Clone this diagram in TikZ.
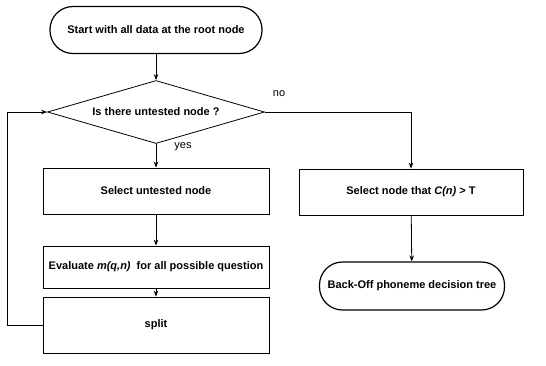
\documentclass[tikz,border=0pt]{standalone}
\usepackage{fontspec}
\setmainfont{Liberation Sans}
\usetikzlibrary{arrows.meta,shapes.geometric}

\begin{document}
\begin{tikzpicture}[x=1pt,y=-1pt]
    \useasboundingbox (0,0) rectangle (546,365);
    \begin{scope}[every node/.style={draw,line width=0.8pt,inner xsep=1pt,font=\bfseries\fontsize{11}{13}\selectfont},
        term/.style={rectangle,rounded corners=23pt,line width=1.2pt},
        stepbox/.style={rectangle,minimum width=226pt}]
      \node[term,minimum width=212pt,minimum height=47pt] (start) at (156,30) {Start with all data at the root node};
      \node[diamond,aspect=3.44,inner sep=0pt,minimum width=217pt,minimum height=63pt] (test) at (156,112) {Is there untested node ?};
      \node[stepbox,minimum height=46pt] (sel) at (156,191) {Select untested node};
      \node[stepbox,minimum height=42pt] (eval) at (156,267) {Evaluate \textit{m(q,n)}\ \ for all possible question};
      \node[stepbox,minimum height=56pt] (split) at (156,325) {split};
      \node[stepbox,minimum width=224pt,minimum height=46pt] (pick) at (411,192) {Select node that \textit{C(n)} > T};
      \node[term,minimum width=185pt,minimum height=48pt] (backoff) at (412,286) {Back-Off phoneme decision tree};
    \end{scope}

    \coordinate (lft) at (7,112);
    \node[font=\fontsize{11}{13}\selectfont] (no) at (279,94) {no};
    \node[font=\fontsize{11}{13}\selectfont] (yes) at (183,147) {yes};

    \begin{scope}[>={Stealth[length=6pt,width=4.5pt]},line width=0.8pt]
      \draw [->] (start) -- (test);
      \draw [->] (test.south) -- (sel);
      \draw [->] (sel) -- (eval);
      \draw [->] (eval) -- (split);
      \draw [->] (split.west) -| (lft) -- (test.west);
      \draw [->] (test.east) -| (pick.north);
      \draw [->] (pick) -- (backoff);
    \end{scope}
\end{tikzpicture}
\end{document}
